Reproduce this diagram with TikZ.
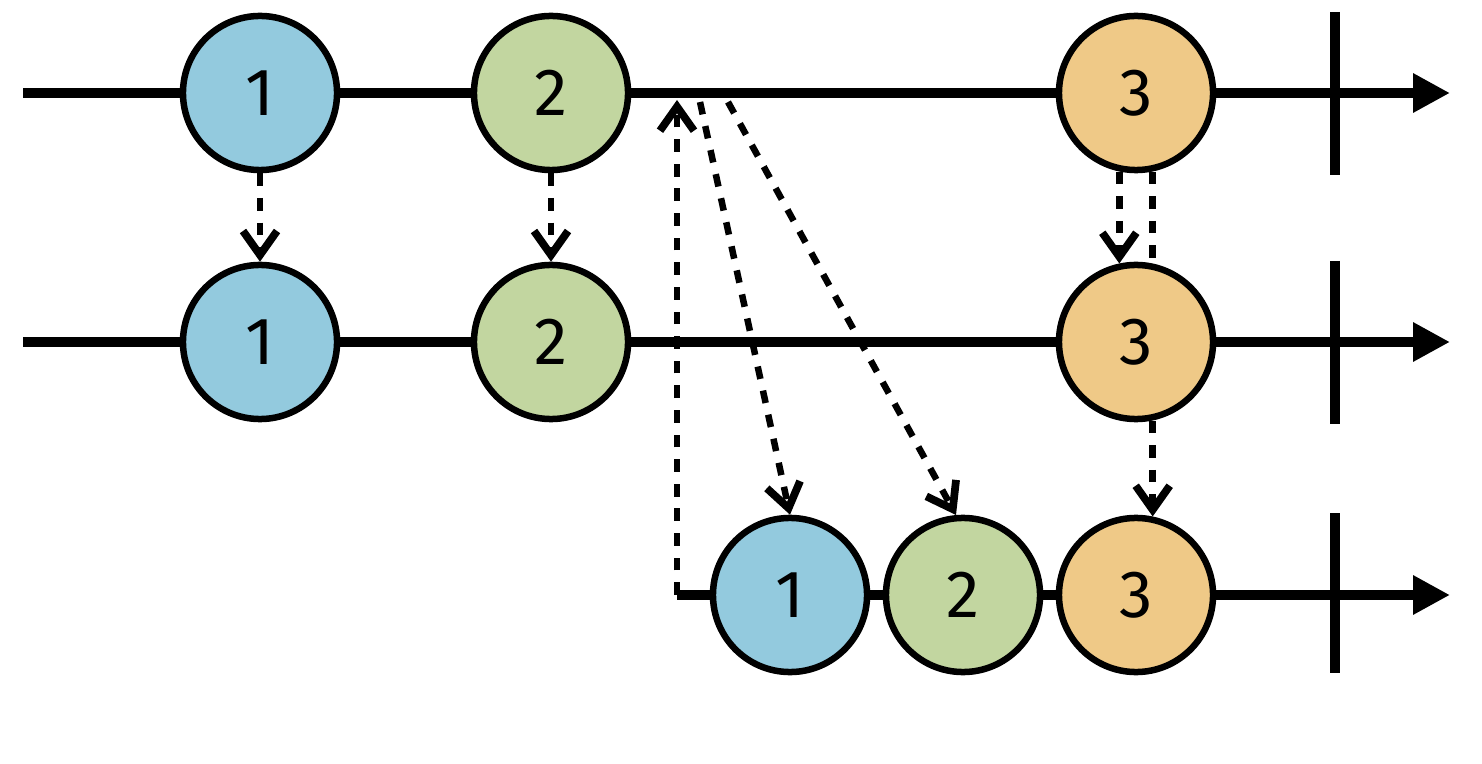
\documentclass[tikz,border=0pt]{standalone}
\usepackage{fontspec}
\setsansfont{Fira Sans}
\usetikzlibrary{arrows.meta, positioning, calc}

\definecolor{ballblue}{RGB}{147,202,222}
\definecolor{ballgreen}{RGB}{194,214,160}
\definecolor{ballorange}{RGB}{239,201,135}

\tikzset{
  ball/.style={circle, draw, line width=1.85pt, minimum size=1.54cm, inner sep=0pt,
    font=\sffamily\fontsize{19}{19}\selectfont},
  timeline/.style={line width=2.85pt, -{Triangle[length=0.37cm,width=0.37cm]}},
  endmark/.style={line width=2.85pt},
  emit/.style={line width=1.85pt, dash pattern=on 3.6pt off 3.4pt,
    -{Straight Barb[length=0.24cm,width=0.34cm,line width=2.2pt]}},
  emitplain/.style={line width=1.85pt, dash pattern=on 3.6pt off 3.4pt},
}

\begin{document}
\begin{tikzpicture}[x=0.01cm, y=-0.01cm]
      \useasboundingbox (0,0) rectangle (1482,764);

      % timelines
      \coordinate (ts) at (23,93);   \coordinate (te) at (1450,93);
      \coordinate (ms) at (23,342);  \coordinate (me) at (1450,342);
      \coordinate (bs) at (677,595); \coordinate (be) at (1450,595);
      \draw[timeline] (ts) -- (te);
      \draw[timeline] (ms) -- (me);
      \draw[timeline] (bs) -- (be);

      % completion marks
      \coordinate (tc1) at (1335,12);  \coordinate (tc2) at (1335,175);
      \coordinate (mc1) at (1335,261); \coordinate (mc2) at (1335,424);
      \coordinate (bc1) at (1335,513); \coordinate (bc2) at (1335,673);
      \draw[endmark] (tc1) -- (tc2);
      \draw[endmark] (mc1) -- (mc2);
      \draw[endmark] (bc1) -- (bc2);

      % top stream
      \node[ball, fill=ballblue]   (t1) at (260,93)  {1};
      \node[ball, fill=ballgreen]  (t2) at (551,93)  {2};
      \node[ball, fill=ballorange] (t3) at (1136,93) {3};

      % middle stream
      \node[ball, fill=ballblue]   (m1) at (260,342)  {1};
      \node[ball, fill=ballgreen]  (m2) at (551,342)  {2};
      \node[ball, fill=ballorange] (m3) at (1136,342) {3};

      % result stream
      \node[ball, fill=ballblue]   (b1) at (790,595)  {1};
      \node[ball, fill=ballgreen]  (b2) at (963,595)  {2};
      \node[ball, fill=ballorange] (b3) at (1136,595) {3};

      % emissions
      \draw[emit] (t1) -- (m1);
      \draw[emit] (t2) -- (m2);
      \draw[emit] (t3.258) -- (m3.102);
      \draw[emitplain] (t3.282) -- (m3.78);
      \draw[emit] (m3.282) -- (b3.78);

      % subscription and replay
      \coordinate (hit) at (677,100);
      \coordinate (tapA) at (700,102);
      \coordinate (tapB) at (728,102);
      \draw[emit] (bs) -- (hit);
      \draw[emit] (tapA) -- (b1.north);
      \draw[emit] (tapB) -- (b2.95);
    \end{tikzpicture}
\end{document}
